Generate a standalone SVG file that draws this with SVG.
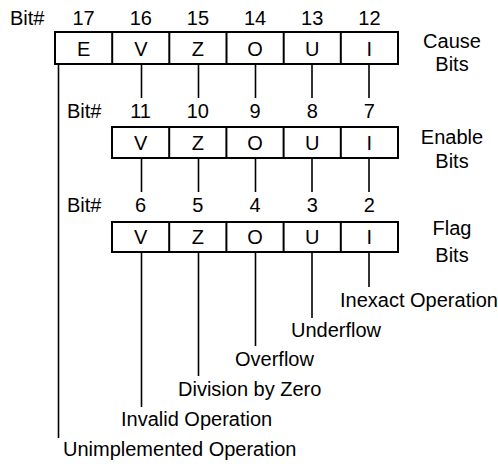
<svg xmlns="http://www.w3.org/2000/svg" width="498" height="464" viewBox="0 0 498 464">
<style>
text{font-family:"Liberation Sans",Arial,sans-serif;font-size:20px;fill:#000}
.c{text-anchor:middle}
.box{fill:#fff;stroke:#000;stroke-width:2}
.div{stroke:#000;stroke-width:2}
.ln{stroke:#000;stroke-width:1.6;fill:none}
</style>
<rect width="498" height="464" fill="#fff"/>
<g id="cause-row">
<text x="10" y="25">Bit#</text>
<text class="c" x="83.6" y="25">17</text>
<text class="c" x="140.8" y="25">16</text>
<text class="c" x="197.9" y="25">15</text>
<text class="c" x="255.1" y="25">14</text>
<text class="c" x="312.2" y="25">13</text>
<text class="c" x="369.4" y="25">12</text>
<rect class="box" x="55" y="32" width="343" height="32"/>
<path class="div" d="M112.2 32V64M169.3 32V64M226.5 32V64M283.7 32V64M340.8 32V64"/>
<text class="c" x="83.6" y="56">E</text>
<text class="c" x="140.8" y="56">V</text>
<text class="c" x="197.9" y="56">Z</text>
<text class="c" x="255.1" y="56">O</text>
<text class="c" x="312.2" y="56">U</text>
<text class="c" x="369.4" y="56">I</text>
<text class="c" x="452" y="48">Cause</text>
<text class="c" x="452" y="71">Bits</text>
</g>
<g id="enable-row">
<text x="67" y="118">Bit#</text>
<text class="c" x="140.6" y="118">11</text>
<text class="c" x="197.8" y="118">10</text>
<text class="c" x="255" y="118">9</text>
<text class="c" x="312.2" y="118">8</text>
<text class="c" x="369.4" y="118">7</text>
<rect class="box" x="112" y="127" width="286" height="31"/>
<path class="div" d="M169.2 127V158M226.4 127V158M283.6 127V158M340.8 127V158"/>
<text class="c" x="140.6" y="150">V</text>
<text class="c" x="197.8" y="150">Z</text>
<text class="c" x="255" y="150">O</text>
<text class="c" x="312.2" y="150">U</text>
<text class="c" x="369.4" y="150">I</text>
<text class="c" x="452" y="144">Enable</text>
<text class="c" x="452" y="168">Bits</text>
</g>
<g id="flag-row">
<text x="67" y="212">Bit#</text>
<text class="c" x="140.6" y="212">6</text>
<text class="c" x="197.8" y="212">5</text>
<text class="c" x="255" y="212">4</text>
<text class="c" x="312.2" y="212">3</text>
<text class="c" x="369.4" y="212">2</text>
<rect class="box" x="112" y="222" width="286" height="30"/>
<path class="div" d="M169.2 222V252M226.4 222V252M283.6 222V252M340.8 222V252"/>
<text class="c" x="140.6" y="244">V</text>
<text class="c" x="197.8" y="244">Z</text>
<text class="c" x="255" y="244">O</text>
<text class="c" x="312.2" y="244">U</text>
<text class="c" x="369.4" y="244">I</text>
<text class="c" x="452" y="235">Flag</text>
<text class="c" x="452" y="262">Bits</text>
</g>
<g id="connectors">
<path class="ln" d="M141.5 64V98M198.5 64V98M255.5 64V98M312 64V98M369 64V98"/>
<path class="ln" d="M141.5 158V192M198.5 158V192M255.5 158V192M312 158V192M369 158V192"/>
<path class="ln" d="M58.5 64V438"/>
<path class="ln" d="M141.5 252V407M198.5 252V376M255.5 252V346M312 252V318M369 252V287"/>
</g>
<g id="labels">
<text x="340" y="307">Inexact Operation</text>
<text x="291" y="337">Underflow</text>
<text x="235" y="366">Overflow</text>
<text x="178" y="396">Division by Zero</text>
<text x="121" y="426">Invalid Operation</text>
<text x="63" y="456">Unimplemented Operation</text>
</g>
</svg>
